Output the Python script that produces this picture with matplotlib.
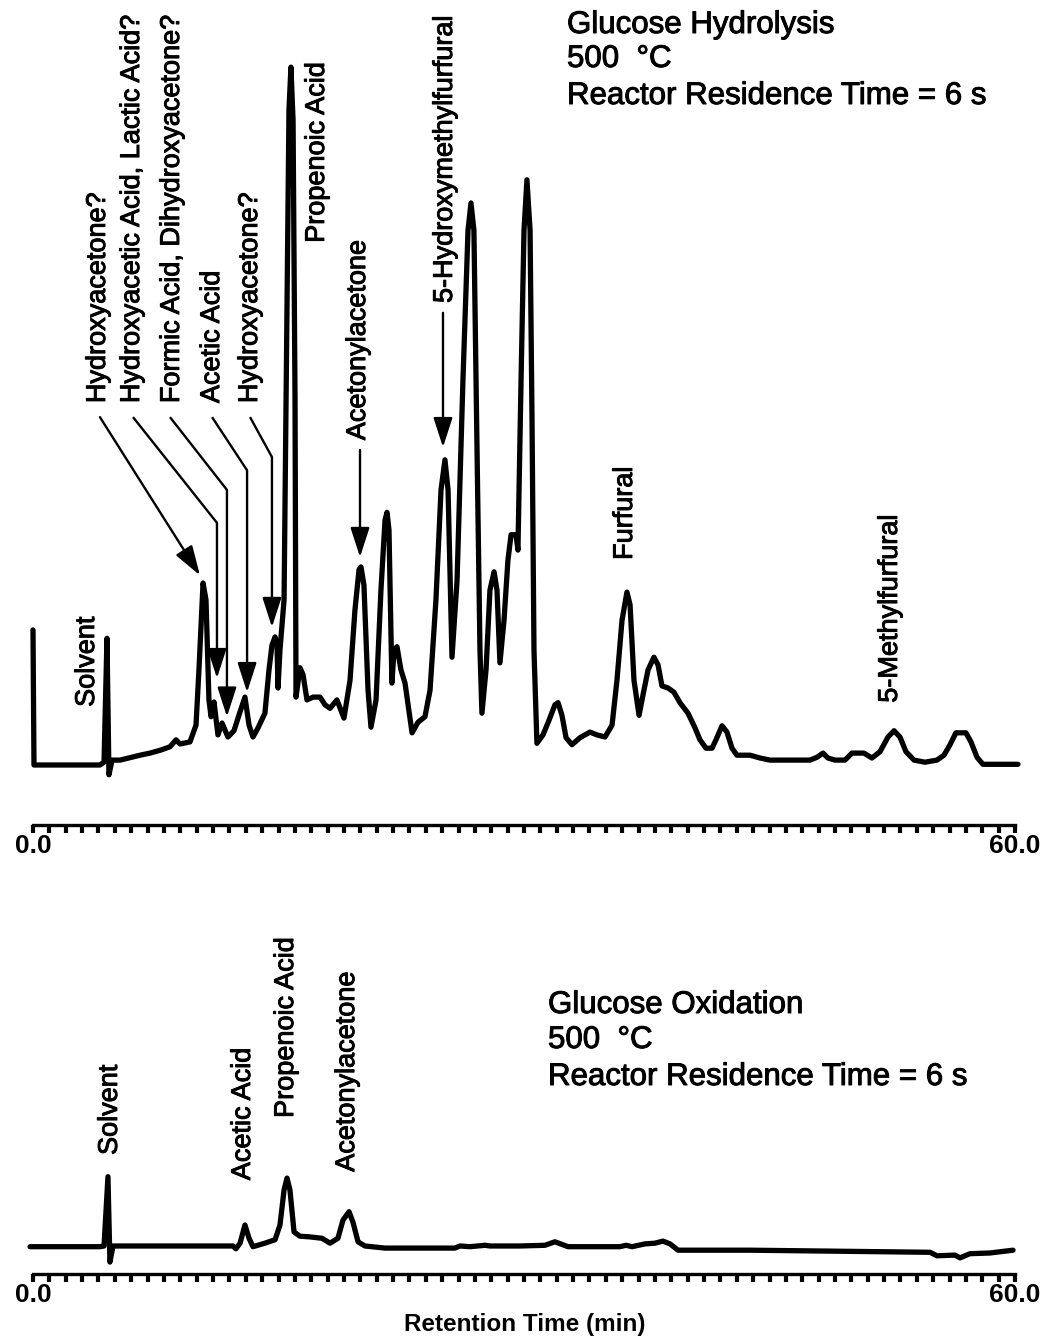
import numpy as np
import matplotlib
matplotlib.use("Agg")
import matplotlib.pyplot as plt
import matplotlib.patheffects as pe

plt.rcParams['font.family'] = ['Liberation Sans', 'DejaVu Sans']

# ---------------------------------------------------------------
# Chromatogram traces: retention time (min) and detector signal
# (relative units, tallest hydrolysis peak ~ 100)
# ---------------------------------------------------------------
hydrolysis_time = [
    0.00, 0.06, 4.09, 4.34, 4.52, 4.64, 4.83, 5.32, 6.54, 7.15,
    7.76, 8.37, 8.74, 8.98, 9.59, 9.96, 10.14, 10.39, 10.57, 10.75,
    10.88, 11.06, 11.30, 11.55, 11.91, 12.28, 12.65, 12.95, 13.20, 13.44,
    13.75, 14.17, 14.42, 14.60, 14.79, 14.91, 14.97, 15.09, 15.34, 15.52,
    15.64, 15.76, 15.89, 16.01, 16.07, 16.31, 16.50, 16.74, 17.11, 17.54,
    17.84, 18.15, 18.57, 19.00, 19.37, 19.67, 19.92, 20.04, 20.22, 20.47,
    20.65, 20.96, 21.26, 21.51, 21.63, 21.75, 21.93, 22.06, 22.24, 22.48,
    22.73, 23.16, 23.52, 23.95, 24.26, 24.62, 24.93, 25.17, 25.36, 25.60,
    25.91, 26.27, 26.58, 26.76, 26.94, 27.13, 27.31, 27.43, 27.68, 27.92,
    28.17, 28.35, 28.53, 28.78, 29.02, 29.21, 29.51, 29.63, 29.82, 30.00,
    30.18, 30.37, 30.49, 30.61, 30.79, 31.16, 31.53, 31.89, 32.08, 32.32,
    32.57, 32.93, 33.42, 34.03, 34.46, 34.95, 35.38, 35.68, 35.99, 36.29,
    36.48, 36.72, 37.03, 37.27, 37.58, 37.94, 38.19, 38.43, 38.80, 39.16,
    39.53, 40.02, 40.45, 40.75, 41.12, 41.49, 41.73, 42.10, 42.40, 42.71,
    43.01, 43.81, 44.42, 45.03, 47.47, 47.90, 48.27, 48.57, 49.00, 49.61,
    50.04, 50.77, 51.26, 51.75, 52.24, 52.61, 52.97, 53.34, 53.83, 54.50,
    55.23, 55.66, 56.03, 56.39, 57.00, 57.31, 57.68, 58.04, 60.18,
]
hydrolysis_signal = [
    19.3, 0.0, 0.0, 0.4, 18.1, -1.4, 0.7, 0.7, 1.4, 1.7,
    2.1, 2.6, 3.6, 3.0, 3.3, 5.7, 13.6, 26.0, 23.6, 9.3,
    6.9, 9.0, 4.3, 6.0, 4.0, 4.9, 7.6, 9.7, 5.7, 4.0,
    5.3, 7.4, 13.6, 17.1, 18.3, 17.1, 11.0, 16.4, 23.6, 66.4,
    93.6, 99.7, 92.1, 52.1, 9.7, 13.9, 12.9, 9.3, 9.7, 9.7,
    8.6, 8.1, 9.3, 6.7, 12.1, 22.1, 27.9, 28.3, 25.7, 10.7,
    5.4, 9.3, 25.0, 35.0, 36.1, 33.6, 11.7, 16.4, 16.9, 13.6,
    11.7, 4.6, 6.1, 6.9, 10.7, 23.6, 39.3, 43.6, 39.3, 15.4,
    26.4, 55.0, 76.4, 80.3, 76.4, 45.0, 16.4, 7.4, 13.6, 25.0,
    27.6, 25.0, 14.6, 20.7, 29.3, 32.9, 32.9, 30.7, 55.0, 76.4,
    83.6, 76.4, 49.3, 16.4, 3.1, 4.3, 6.4, 8.6, 8.9, 7.1,
    3.9, 2.9, 3.9, 4.7, 4.3, 4.0, 5.7, 12.1, 20.7, 24.7,
    22.9, 12.1, 7.1, 10.0, 13.6, 15.4, 14.3, 11.3, 11.0, 10.4,
    8.9, 7.4, 5.3, 3.6, 2.4, 2.4, 3.6, 5.6, 4.7, 2.4,
    1.4, 1.4, 1.0, 0.7, 0.7, 1.1, 1.7, 1.0, 0.7, 0.7,
    1.7, 1.7, 1.0, 1.9, 4.0, 4.9, 4.0, 1.9, 0.7, 0.4,
    0.7, 1.4, 2.9, 4.6, 4.6, 3.3, 1.1, 0.1, 0.1,
]

oxidation_time = [
    -0.18, 4.09, 4.34, 4.58, 4.70, 4.89, 12.22, 12.40, 12.65, 12.95,
    13.20, 13.44, 14.17, 14.79, 15.09, 15.34, 15.52, 15.70, 15.95, 16.31,
    16.92, 17.66, 18.15, 18.63, 18.94, 19.31, 19.55, 19.86, 20.28, 21.51,
    25.78, 26.09, 26.70, 27.62, 27.92, 29.76, 31.28, 31.89, 32.69, 35.86,
    36.23, 36.60, 37.39, 38.00, 38.49, 38.92, 39.41, 43.81, 54.81, 55.23,
    56.33, 56.64, 57.25, 58.47, 59.88,
]
oxidation_signal = [
    -0.1, -0.1, 0.0, 9.9, -2.3, 0.0, 0.0, -0.4, 0.4, 3.0,
    1.1, -0.1, 0.4, 0.9, 3.0, 8.0, 9.7, 8.0, 2.0, 1.4,
    1.3, 1.1, 0.4, 1.1, 3.7, 4.9, 3.4, 0.6, 0.0, -0.3,
    -0.3, 0.0, -0.1, 0.1, 0.0, 0.0, 0.1, 0.6, -0.1, -0.1,
    0.1, -0.1, 0.3, 0.4, 0.7, 0.3, -0.6, -0.6, -0.9, -1.4,
    -1.3, -1.7, -1.1, -1.0, -0.6,
]

axis_ticks = list(range(0, 61))
axis_labels = {0: "0.0", 60: "60.0"}

hydrolysis_title = ["Glucose Hydrolysis", "500  \u00b0C", "Reactor Residence Time = 6 s"]
oxidation_title = ["Glucose Oxidation", "500  \u00b0C", "Reactor Residence Time = 6 s"]

# ---------------------------------------------------------------
W, H = 1044, 1341
fig = plt.figure(figsize=(W / 100, H / 100), dpi=100)
fig.patch.set_facecolor("white")

ink = [pe.withStroke(linewidth=0.7, foreground="black")]


def axes_px(x0, y_top, x1, y_bot):
    return fig.add_axes([x0 / W, 1 - y_bot / H, (x1 - x0) / W, (y_bot - y_top) / H])


def style_axes(ax, ylim):
    ax.set_xlim(0, 60)
    ax.set_ylim(*ylim)
    for side in ("left", "right", "top"):
        ax.spines[side].set_visible(False)
    ax.spines["bottom"].set_linewidth(2.4)
    ax.set_yticks([])
    ax.set_xticks(axis_ticks)
    ax.set_xticklabels([axis_labels.get(t, "") for t in axis_ticks],
                       fontsize=19, fontweight="bold")
    ax.tick_params(axis="x", direction="out", length=5.5, width=3.0, pad=1.5)
    ax.patch.set_alpha(0)


ax_top = axes_px(33, 0, 1015, 824.5)
style_axes(ax_top, (-8.5, 109.29))
ax_bot = axes_px(33, 900, 1015, 1273.5)
style_axes(ax_bot, (-3.93, 49.43))

trace_kw = dict(color="black", lw=3.8, solid_joinstyle="round",
                solid_capstyle="round", clip_on=False)
ax_top.plot(hydrolysis_time, hydrolysis_signal, **trace_kw)
ax_bot.plot(oxidation_time, oxidation_signal, **trace_kw)

lab_kw = dict(rotation=90, ha="center", va="bottom", fontsize=19.5,
              path_effects=ink)

# --- peak labels, hydrolysis run ---
ax_top.text(3.30, 8.3, "Solvent", **lab_kw)
ax_top.text(3.97, 51.7, "Hydroxyacetone?", **lab_kw)
ax_top.text(6.05, 51.7, "Hydroxyacetic Acid, Lactic Acid?", **lab_kw)
ax_top.text(8.49, 51.7, "Formic Acid, Dihydroxyacetone?", **lab_kw)
ax_top.text(10.94, 51.7, "Acetic Acid", **lab_kw)
ax_top.text(13.26, 51.7, "Hydroxyacetone?", **lab_kw)
ax_top.text(17.35, 74.6, "Propenoic Acid", **lab_kw)
ax_top.text(19.86, 46.4, "Acetonylacetone", **lab_kw)
ax_top.text(25.17, 66.0, "5-Hydroxymethylfurfural", **lab_kw)
ax_top.text(36.17, 29.3, "Furfural", **lab_kw)
ax_top.text(52.36, 8.9, "5-Methylfurfural", **lab_kw)

# leader lines with arrowheads (start, optional bend, tip)
leaders = [
    [(4.09, 49.7), (10.20, 27.1)],
    [(6.11, 49.7), (11.24, 34.6), (11.24, 12.4)],
    [(8.37, 49.7), (11.85, 39.3), (11.85, 6.9)],
    [(10.94, 49.7), (13.08, 42.1), (13.08, 10.4)],
    [(13.26, 49.7), (14.60, 44.0), (14.60, 19.7)],
    [(19.98, 45.0), (19.98, 29.7)],
    [(25.05, 64.6), (25.05, 45.4)],
]
arrow_kw = dict(arrowstyle="-|>,head_length=1.3,head_width=0.42",
                color="black", lw=1.7, mutation_scale=14,
                shrinkA=0, shrinkB=0)
for pts in leaders:
    if len(pts) == 3:
        ax_top.plot([pts[0][0], pts[1][0]], [pts[0][1], pts[1][1]],
                    color="black", lw=1.7, solid_capstyle="butt")
    ax_top.annotate("", xy=pts[-1], xytext=pts[-2], arrowprops=arrow_kw)

# --- peak labels, oxidation run ---
ax_bot.text(4.70, 13.0, "Solvent", **lab_kw)
ax_bot.text(12.83, 9.4, "Acetic Acid", **lab_kw)
ax_bot.text(15.46, 18.3, "Propenoic Acid", **lab_kw)
ax_bot.text(19.19, 10.6, "Acetonylacetone", **lab_kw)

# --- condition blocks ---
for line, base in zip(hydrolysis_title, [33, 67, 104]):
    fig.text(567 / W, 1 - base / H, line, fontsize=22.5, ha="left",
             va="baseline", path_effects=ink)
for line, base in zip(oxidation_title, [1013, 1048, 1085]):
    fig.text(548 / W, 1 - base / H, line, fontsize=22.5, ha="left",
             va="baseline", path_effects=ink)

fig.text(525 / W, 1 - 1325 / H, "Retention Time (min)", fontsize=17.5,
         fontweight="bold", ha="center", va="center")

fig.savefig("out.png", dpi=100, facecolor="white")
